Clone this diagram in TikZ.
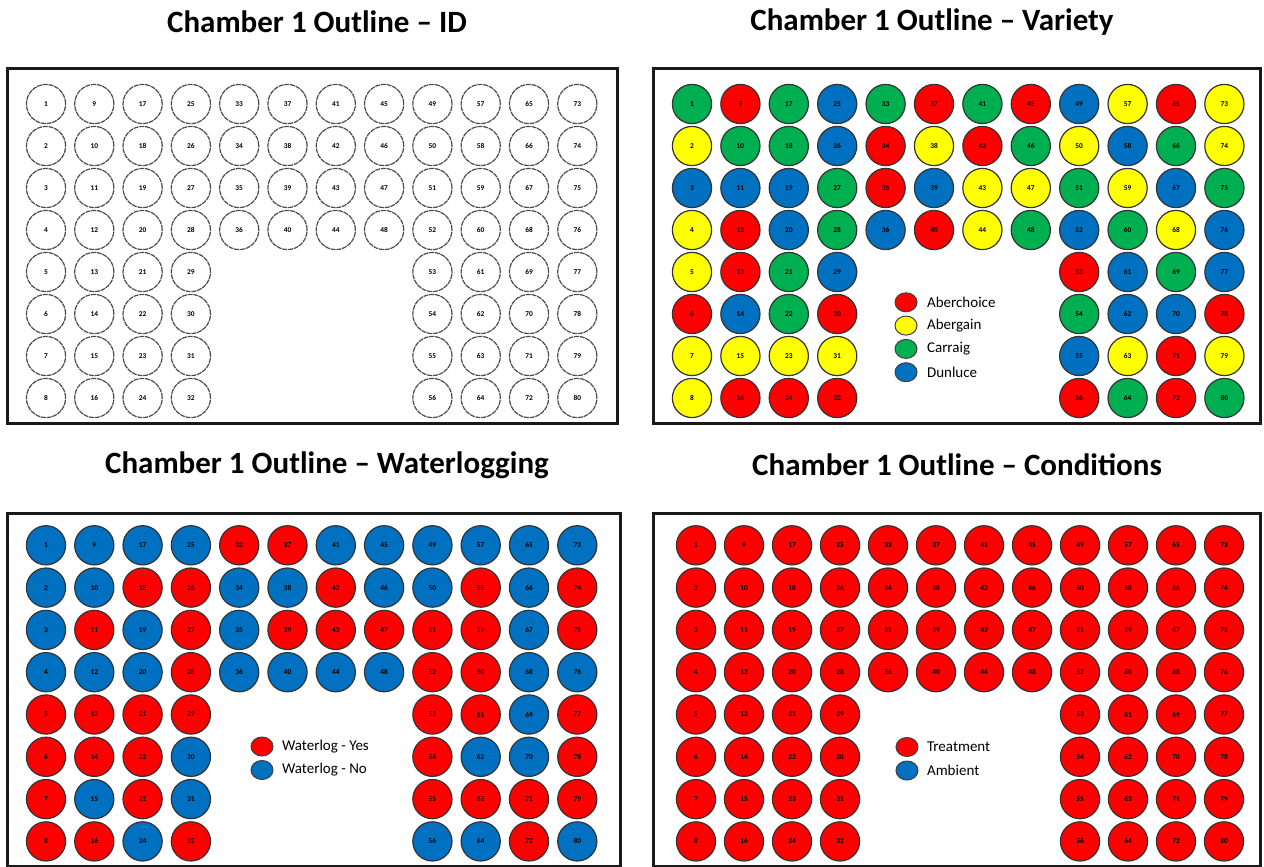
\documentclass[tikz,border=0pt]{standalone}
\usepackage{fontspec}
\setmainfont{Carlito}
\usetikzlibrary{shapes.geometric}
\definecolor{cR}{HTML}{FF0000}
\definecolor{cY}{HTML}{FFFF00}
\definecolor{cG}{HTML}{00B050}
\definecolor{cB}{HTML}{0070C0}
\definecolor{cW}{HTML}{FFFFFF}
\begin{document}
\begin{tikzpicture}[x=0.5pt,y=-0.5pt,
  heading/.style={font=\bfseries\fontsize{15.5}{18}\selectfont},
  chamber/.style={draw=black!90,line width=1.5pt},
  pot/.style={circle,draw=black!80,line width=0.6pt,minimum size=19.6pt,inner sep=0pt,
    font=\bfseries\fontsize{3.7}{4}\selectfont},
  idpot/.style={pot,draw=black!70,dash pattern=on 2.5pt off 0.4pt},
  keydot/.style={ellipse,draw=black!75,line width=0.5pt,minimum width=11pt,minimum height=9.5pt,inner sep=0pt},
  keytext/.style={anchor=west,font=\fontsize{7.5}{9}\selectfont}]
  \useasboundingbox (0,0) rectangle (1264,867);

  % Titles
  \node[heading] (tID)  at (317,22)  {Chamber 1 Outline – ID};
  \node[heading] (tVar) at (932,22)  {Chamber 1 Outline – Variety};
  \node[heading] (tWat) at (327,465) {Chamber 1 Outline – Waterlogging};
  \node[heading] (tCon) at (957,465) {Chamber 1 Outline – Conditions};

  % Chamber frames
  \draw[chamber] (7,68) rectangle (617,423);
  \draw[chamber] (653,68) rectangle (1260,423);
  \draw[chamber] (7,513) rectangle (620,866);
  \draw[chamber] (653,513) rectangle (1260,866);

  % ID: columns (index/first id/rows)
  \foreach \c/\s/\n in {0/1/8,1/9/8,2/17/8,3/25/8,4/33/4,5/37/4,6/41/4,7/45/4,
                        8/49/8,9/57/8,10/65/8,11/73/8}
     {\foreach \r in {1,...,\n}
        {\pgfmathtruncatemacro\id{\s+\r-1}
         \node[idpot] (i\id) at ({46+48.3*\c},{62+42*\r}) {\id};}}

  % Variety
  \foreach \c/\s/\f in {0/1/{G,Y,B,Y,Y,R,Y,Y},1/9/{R,G,B,R,R,B,Y,R},
                        2/17/{G,G,B,B,G,G,Y,R},3/25/{B,B,G,G,B,R,Y,R},
                        4/33/{G,R,R,B},5/37/{R,Y,B,R},6/41/{G,R,Y,Y},7/45/{R,G,Y,G},
                        8/49/{B,Y,G,B,R,G,B,R},9/57/{Y,B,Y,G,B,B,Y,G},
                        10/65/{R,G,B,Y,G,B,R,R},11/73/{Y,Y,G,B,B,R,Y,G}}
     {\foreach \k [count=\r] in \f
        {\pgfmathtruncatemacro\id{\s+\r-1}
         \node[pot,fill=c\k] (v\id) at ({692+48.4*\c},{62+42*\r}) {\id};}}
  \foreach \k/\l [count=\r] in {R/Aberchoice,Y/Abergain,G/Carraig,B/Dunluce}
     {\node[keydot,fill=c\k] (vk\r) at (906,{279+23.3*\r}) {};
      \node[keytext] (vl\r) at (920,{279+23.3*\r}) {\l};}

  % Waterlogging
  \foreach \c/\s/\f in {0/1/{B,B,B,B,R,R,R,R},1/9/{B,B,R,B,R,R,B,R},
                        2/17/{B,R,B,B,R,R,R,B},3/25/{B,R,R,R,R,B,B,R},
                        4/33/{R,B,B,B},5/37/{R,B,R,B},6/41/{B,R,R,B},7/45/{B,B,R,B},
                        8/49/{B,B,R,R,R,R,R,B},9/57/{B,R,R,R,R,B,R,B},
                        10/65/{B,B,B,B,B,B,R,R},11/73/{B,R,R,B,R,R,R,B}}
     {\foreach \k [count=\r] in \f
        {\pgfmathtruncatemacro\id{\s+\r-1}
         \node[pot,fill=c\k] (w\id) at ({46+48.3*\c},{503+42.3*\r}) {\id};}}
  \foreach \k/\l [count=\r] in {R/Waterlog - Yes,B/Waterlog - No}
     {\node[keydot,fill=c\k] (wk\r) at (262,{723+23.5*\r}) {};
      \node[keytext] (wl\r) at (275,{723+23.5*\r}) {\l};}

  % Conditions
  \foreach \c/\s/\n in {0/1/8,1/9/8,2/17/8,3/25/8,4/33/4,5/37/4,6/41/4,7/45/4,
                        8/49/8,9/57/8,10/65/8,11/73/8}
     {\foreach \r in {1,...,\n}
        {\pgfmathtruncatemacro\id{\s+\r-1}
         \node[pot,fill=cR] (c\id) at ({696+48*\c},{503+42.3*\r}) {\id};}}
  \foreach \k/\l [count=\r] in {R/Treatment,B/Ambient}
     {\node[keydot,fill=c\k] (ck\r) at (907,{723.5+23.5*\r}) {};
      \node[keytext] (cl\r) at (920,{723.5+23.5*\r}) {\l};}
\end{tikzpicture}
\end{document}
